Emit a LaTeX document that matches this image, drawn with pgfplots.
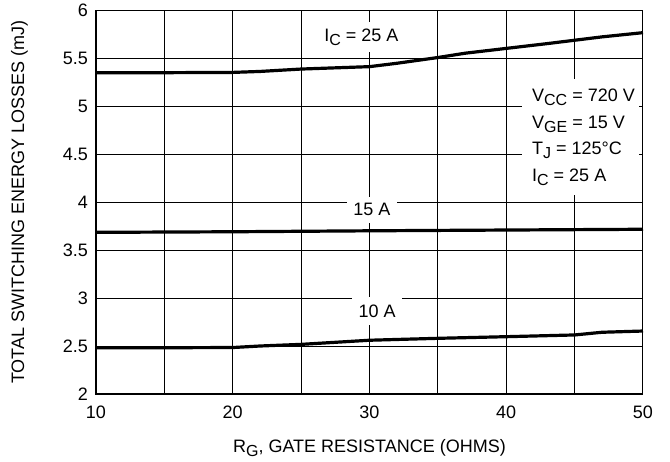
\documentclass[border=0pt]{standalone}
\usepackage{pgfplots}
\pgfplotsset{compat=1.18}
\usepackage{fontspec}
\setmainfont{Liberation Sans}
\newcommand{\sub}[1]{\raisebox{-0.42ex}{\fontsize{16}{16}\selectfont #1}}
\begin{document}
\begin{tikzpicture}
\path[use as bounding box] (-96pt,-67pt) rectangle (574pt,394pt);
\begin{axis}[
  scale only axis, width=547pt, height=384pt,
  xmin=10, xmax=50, ymin=2, ymax=6,
  xtick={10,20,30,40,50},
  minor xtick={15,25,35,45},
  ytick={2,2.5,3,3.5,4,4.5,5,5.5,6},
  grid=both,
  major grid style={black, line width=1pt},
  minor grid style={black, line width=1pt},
  major tick length=0pt, minor tick length=0pt,
  axis line style={black, line width=1pt},
  /pgf/number format/assume math mode=true,
  ticklabel style={font=\fontsize{18}{20}\selectfont},
  yticklabel style={anchor=east, inner xsep=0pt, xshift=-8pt},
  xticklabel style={anchor=base, inner sep=0pt, yshift=-24pt},
  label style={font=\fontsize{18}{20}\selectfont},
  xlabel={R\sub{G}, GATE RESISTANCE (OHMS)},
  ylabel={TOTAL SWITCHING ENERGY LOSSES (mJ)},
  xlabel style={at={(axis description cs:0.5,-0.1536)}, anchor=base, inner sep=0pt},
  ylabel style={at={(axis description cs:-0.1398,0.5)}, anchor=center, inner sep=0pt},
  clip=false,
]
% 25 A
\addplot[black, line width=3.2pt, line join=round] coordinates {
(10,5.347) (15,5.347) (20,5.35) (22,5.36) (25,5.385) (28,5.40) (30,5.41) (32,5.445) (35,5.505) (37,5.55) (40,5.60) (43,5.65) (45,5.685) (47,5.72) (50,5.764)};
% 15 A
\addplot[black, line width=3.2pt, line join=round] coordinates {
(10,3.684) (20,3.69) (30,3.70) (40,3.708) (50,3.716)};
% 10 A
\addplot[black, line width=3.2pt, line join=round] coordinates {
(10,2.482) (15,2.482) (20,2.484) (22,2.50) (25,2.517) (30,2.56) (35,2.58) (40,2.597) (45,2.615) (47,2.643) (50,2.656)};
\draw[black, line width=2.6pt] (rel axis cs:0,1) -- (rel axis cs:0,0) -- (rel axis cs:1,0);
\node[fill=white, minimum height=30pt, inner xsep=4pt, inner ysep=0pt, font=\fontsize{18}{20}\selectfont] at (axis cs:29.41,5.72) {I\sub{C} = 25 A};
\node[fill=white, minimum width=50pt, minimum height=26pt, inner sep=0pt, font=\fontsize{18}{20}\selectfont] at (axis cs:30.18,3.92) {15 A};
\node[fill=white, minimum width=50pt, minimum height=28pt, inner sep=0pt, font=\fontsize{18}{20}\selectfont] at (axis cs:30.55,2.865) {10 A};
\node[fill=white, anchor=north west, inner xsep=4pt, inner ysep=10pt, align=left, font=\fontsize{18}{26.5}\selectfont] at (axis cs:41.15,5.281) {\hspace*{6pt}V\sub{CC} = 720 V\\\hspace*{6pt}V\sub{GE} = 15 V\\\hspace*{6pt}T\sub{J} = 125\textdegree C\\\hspace*{6pt}I\sub{C} = 25 A};
\end{axis}
\end{tikzpicture}
\end{document}
